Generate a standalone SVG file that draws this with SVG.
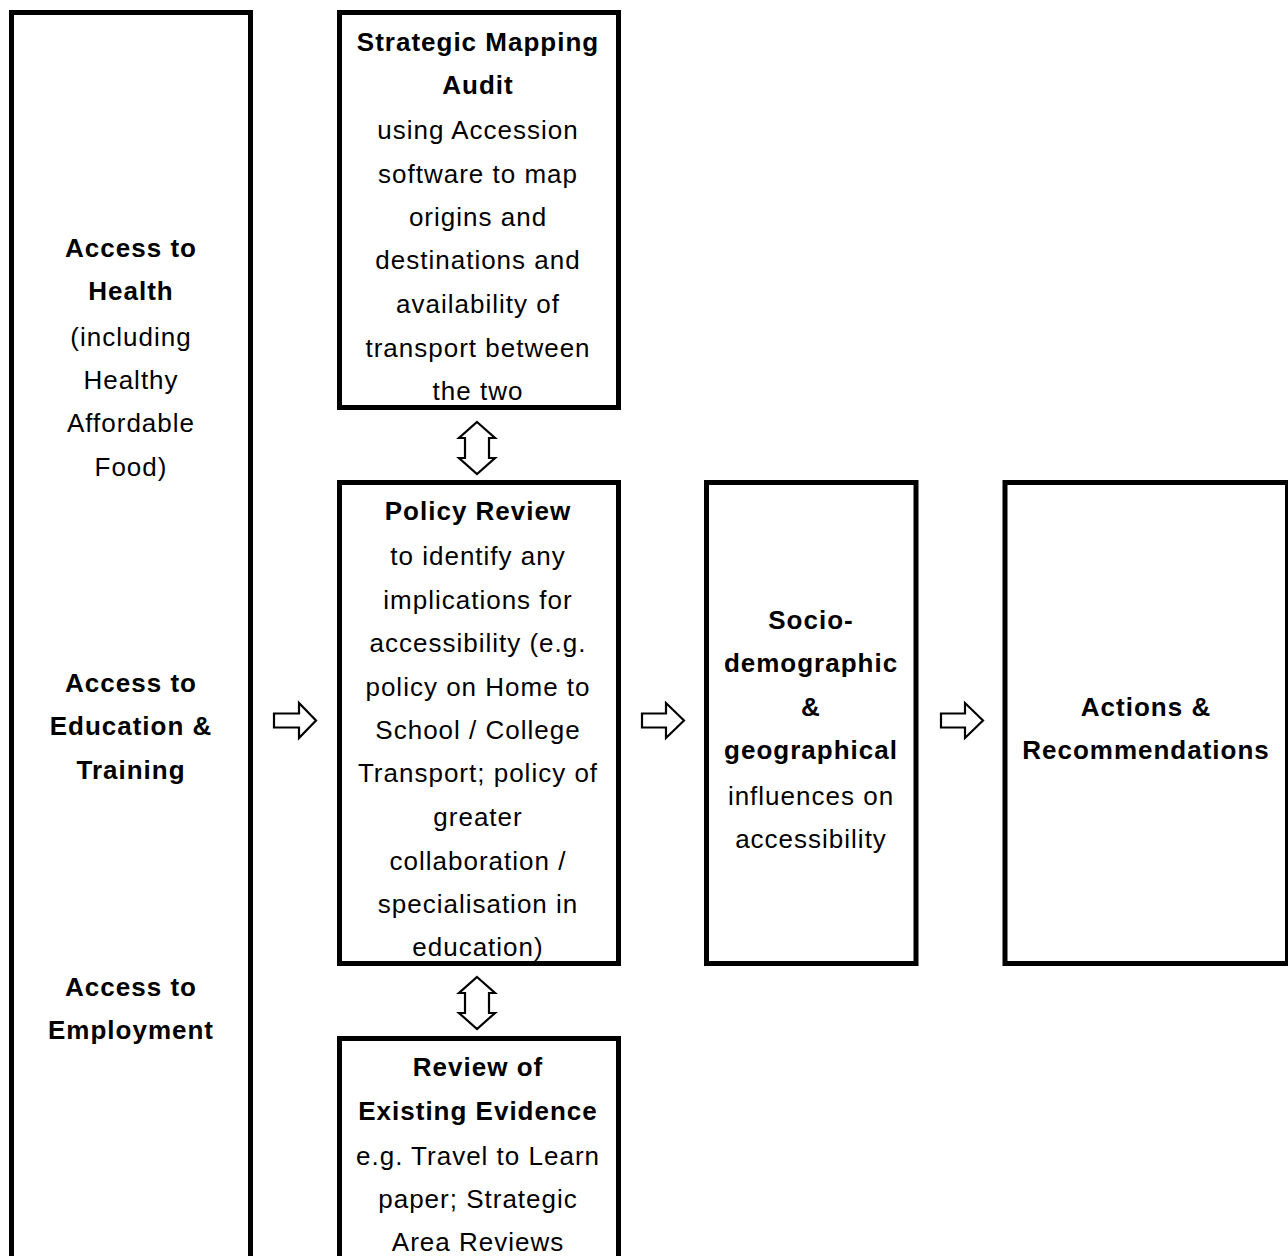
<svg xmlns="http://www.w3.org/2000/svg" width="1288" height="1256" viewBox="0 0 1288 1256">
<style>
.box{fill:#fff;stroke:#000;stroke-width:5}
.arr{fill:#fff;stroke:#000;stroke-width:2.2;stroke-linejoin:miter}
text{font-family:"Liberation Sans",Arial,sans-serif;font-size:26px;letter-spacing:1px;text-anchor:middle;fill:#000}
.b{font-weight:bold}
</style>
<rect width="1288" height="1256" fill="#fff"/>
<g id="left">
<rect class="box" x="11.5" y="12.5" width="239" height="1260"/>
<text x="131" y="257" class="b">Access to</text>
<text x="131" y="300" class="b">Health</text>
<text x="131" y="346">(including</text>
<text x="131" y="389">Healthy</text>
<text x="131" y="432">Affordable</text>
<text x="131" y="476">Food)</text>
<text x="131" y="692" class="b">Access to</text>
<text x="131" y="735" class="b">Education &amp;</text>
<text x="131" y="779" class="b">Training</text>
<text x="131" y="996" class="b">Access to</text>
<text x="131" y="1039" class="b">Employment</text>
</g>
<g id="strategic">
<rect class="box" x="339.5" y="12.5" width="279" height="395"/>
<text x="478" y="51" class="b">Strategic Mapping</text>
<text x="478" y="94" class="b">Audit</text>
<text x="478" y="139">using Accession</text>
<text x="478" y="183">software to map</text>
<text x="478" y="226">origins and</text>
<text x="478" y="269">destinations and</text>
<text x="478" y="313">availability of</text>
<text x="478" y="357">transport between</text>
<text x="478" y="400">the two</text>
</g>
<g id="policy">
<rect class="box" x="339.5" y="482.5" width="279" height="481"/>
<text x="478" y="520" class="b">Policy Review</text>
<text x="478" y="565">to identify any</text>
<text x="478" y="609">implications for</text>
<text x="478" y="652">accessibility (e.g.</text>
<text x="478" y="696">policy on Home to</text>
<text x="478" y="739">School / College</text>
<text x="478" y="782">Transport; policy of</text>
<text x="478" y="826">greater</text>
<text x="478" y="870">collaboration /</text>
<text x="478" y="913">specialisation in</text>
<text x="478" y="956">education)</text>
</g>
<g id="review">
<rect class="box" x="339.5" y="1038.5" width="279" height="240"/>
<text x="478" y="1076" class="b">Review of</text>
<text x="478" y="1120" class="b">Existing Evidence</text>
<text x="478" y="1165">e.g. Travel to Learn</text>
<text x="478" y="1208">paper; Strategic</text>
<text x="478" y="1251">Area Reviews</text>
</g>
<g id="socio">
<rect class="box" x="706.5" y="482.5" width="209.5" height="481"/>
<text x="811" y="629" class="b">Socio-</text>
<text x="811" y="672" class="b">demographic</text>
<text x="811" y="716" class="b">&amp;</text>
<text x="811" y="759" class="b">geographical</text>
<text x="811" y="805">influences on</text>
<text x="811" y="848">accessibility</text>
</g>
<g id="actions">
<rect class="box" x="1005" y="482.5" width="282.5" height="481"/>
<text x="1146" y="716" class="b">Actions &amp;</text>
<text x="1146" y="759" class="b">Recommendations</text>
</g>
<g id="connectors">
<path class="arr" d="M477,422 L495,438 L489,438 L489,458 L495,458 L477,474 L459,458 L465,458 L465,438 L459,438 Z"/>
<path class="arr" d="M477,977 L495,993 L489,993 L489,1013 L495,1013 L477,1029 L459,1013 L465,1013 L465,993 L459,993 Z"/>
<path class="arr" d="M274,713.5 L299,713.5 L299,703 L316,720.5 L299,738 L299,727.5 L274,727.5 Z"/>
<path class="arr" d="M642,713.5 L666,713.5 L666,703 L684,720.5 L666,738 L666,727.5 L642,727.5 Z"/>
<path class="arr" d="M941,713.5 L965,713.5 L965,703 L983,720.5 L965,738 L965,727.5 L941,727.5 Z"/>
</g>
</svg>
